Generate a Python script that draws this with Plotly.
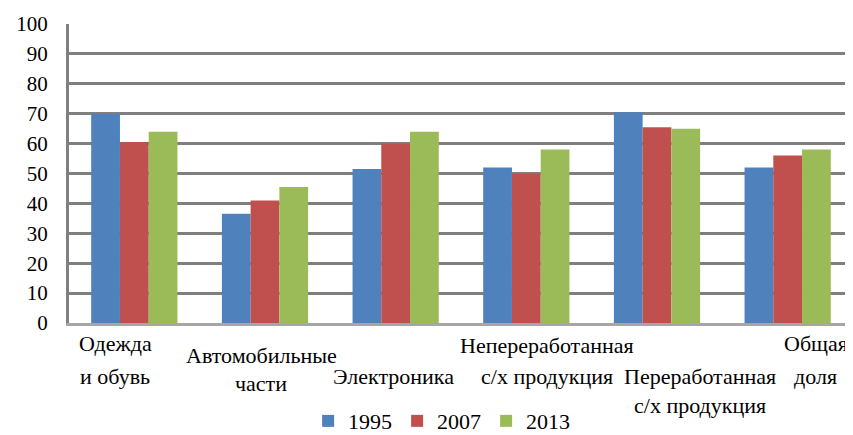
import plotly.graph_objects as go

# categories (the x labels are drawn staggered, line by line, as in the original)
categories = ['Одежда и обувь', 'Автомобильные части', 'Электроника',
              'Непереработанная с/х продукция', 'Переработанная с/х продукция', 'Общая доля']
label_lines = [['Одежда', 'и обувь'], ['Автомобильные', 'части'], ['Электроника'],
               ['Непереработанная', 'с/х продукция'], ['Переработанная', 'с/х продукция'],
               ['Общая', 'доля']]
years = ['1995', '2007', '2013']
vals_1995 = [70, 36.5, 51.5, 52, 70.5, 52]
vals_2007 = [60.5, 41, 60, 50, 65.5, 56]
vals_2013 = [64, 45.5, 64, 58, 65, 58]
y_ticks = [0, 10, 20, 30, 40, 50, 60, 70, 80, 90, 100]

colors = ['#4F81BD', '#C0504D', '#9BBB59']
font_family = 'Liberation Serif'

fig = go.Figure()
for name, vals, c in zip(years, [vals_1995, vals_2007, vals_2013], colors):
    fig.add_trace(go.Bar(x=categories, y=vals, name=name, marker_color=c,
                         marker_line_width=0))

# label placement: (x shift from category centre, y centre of each line below the axis)
label_pos = [(-19, [20, 53]), (-4, [32, 60]), (-2, [53]),
             (21, [22, 53]), (43, [53, 82]), (28, [20, 53])]
for cat, lines, (dx, dys) in zip(categories, label_lines, label_pos):
    for line, dy in zip(lines, dys):
        fig.add_annotation(x=cat, xref='x', y=0, yref='paper', text=line,
                           showarrow=False, xanchor='center', yanchor='middle',
                           xshift=dx, yshift=-dy,
                           font=dict(family=font_family, size=22, color='black'))

# page body adds 8px offset; extra height just falls off the window
fig.update_layout(
    width=845, height=445,
    margin=dict(l=61, r=0, t=16, b=130),
    plot_bgcolor='white', paper_bgcolor='white',
    barmode='group', bargap=0.34, bargroupgap=0,
    font=dict(family=font_family, size=20, color='black'),
    legend=dict(orientation='h', x=0.305, xanchor='left', y=-0.328, yanchor='middle',
                font=dict(family=font_family, size=22), itemwidth=30,
                entrywidth=44, entrywidthmode='pixels', traceorder='normal'),
    showlegend=True,
)
fig.update_xaxes(showticklabels=False, showgrid=False, showline=True,
                 linecolor='#A6A6A6', linewidth=3, ticks='')
fig.update_yaxes(range=[0, 100], tickvals=y_ticks, showgrid=True, gridcolor='#7F7F7F',
                 gridwidth=3, showline=True, linecolor='#808080', linewidth=3,
                 ticks='outside', ticklen=14, tickcolor='rgba(0,0,0,0)', zeroline=False,
                 automargin=False, tickfont=dict(family=font_family, size=21))

fig.write_html('out.html')
